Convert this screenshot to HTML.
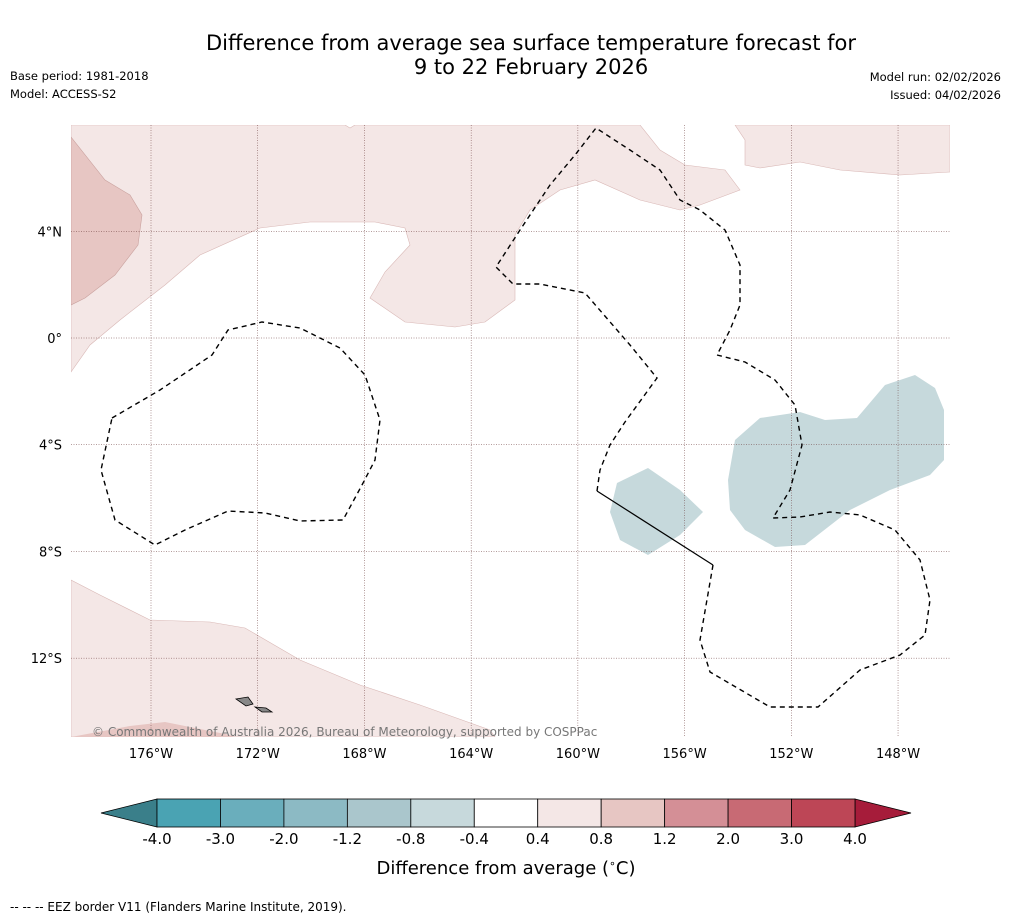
<!DOCTYPE html>
<html><head><meta charset="utf-8">
<style>
body{margin:0;background:#fff;width:1011px;height:919px;overflow:hidden;font-family:"Liberation Sans",sans-serif}
svg text{font-family:"DejaVu Sans","Liberation Sans",sans-serif}
</style></head>
<body>
<svg id="fig" width="1011" height="919">
<rect width="1011" height="919" fill="#fff"/>
<text x="531" y="50" font-size="21" text-anchor="middle">Difference from average sea surface temperature forecast for</text>
<text x="531" y="74" font-size="21" text-anchor="middle">9 to 22 February 2026</text>
<text x="10" y="80" font-size="11.5">Base period: 1981-2018</text>
<text x="10" y="98" font-size="11.5">Model: ACCESS-S2</text>
<text x="1001" y="81" font-size="11.5" text-anchor="end">Model run: 02/02/2026</text>
<text x="1001" y="99" font-size="11.5" text-anchor="end">Issued: 04/02/2026</text>

<g>
<clipPath id="mc"><rect x="71" y="125" width="879" height="612"/></clipPath>
<g clip-path="url(#mc)">
<polygon fill="#f4e7e6" stroke="#d9b8b6" stroke-width="0.6" points="71,125 345,125 350,128 355,125 640,125 660,150 685,165 725,170 740,190 700,205 680,210 640,200 595,180 560,190 530,210 515,235 515,300 485,322 455,327 405,322 370,298 385,272 410,245 405,228 375,222 310,222 260,228 200,255 165,285 120,320 90,345 71,372"/>
<polygon fill="#f4e7e6" stroke="#d9b8b6" stroke-width="0.6" points="735,125 950,125 950,172 900,175 840,170 800,162 760,168 745,165 745,140"/>
<polygon fill="#e7c6c3" stroke="#c9a19e" stroke-width="0.6" points="71,137 105,180 130,195 142,215 138,245 115,275 85,298 71,305"/>
<polygon fill="#f4e7e6" stroke="#d9b8b6" stroke-width="0.6" points="71,580 100,595 150,620 210,622 245,628 300,660 360,685 420,705 490,730 495,737 71,737"/>
<polygon fill="#e7c6c3" points="71,737 130,726 165,722 230,735 235,737"/>
<polygon fill="#c6d9dc" points="735,440 760,418 800,412 825,420 857,418 885,385 915,375 935,388 944,410 944,460 930,475 890,490 850,510 805,545 775,547 745,530 730,510 728,480"/>
<polygon fill="#c6d9dc" points="617,483 648,468 680,490 703,512 680,535 648,555 620,540 610,512"/>
<g id="grid" stroke="#6a3a3a" stroke-width="0.5" stroke-dasharray="1,1.5"></g>
<g fill="none" stroke="#000" stroke-width="1.4" stroke-dasharray="5,4">
<polygon points="112,418 160,390 212,355 228,330 262,322 300,328 340,348 365,375 380,420 375,460 362,485 343,520 300,521 265,513 228,511 185,530 155,545 115,520 101,470"/>
<polyline points="597,491 600,470 610,445 625,422 657,378 630,345 585,293 540,284 513,284 496,267 520,230 550,185 575,155 596,128 630,150 660,170 680,200 700,210 725,230 740,265 740,305 730,330 717,355"/>
<polyline points="717,355 745,362 775,380 795,405 802,445 790,490 773,518 800,517 830,512 860,515 895,530 920,560 930,600 925,635 900,655 860,670 818,707 770,707 710,672 700,640 713,565"/>
</g>
<line x1="597" y1="491" x2="713" y2="565" stroke="#000" stroke-width="1.2"/>
<polygon points="236,699 248,697 253,704 246,706" fill="#888" stroke="#000" stroke-width="0.8"/>
<polygon points="255,707 266,708 272,712 262,712" fill="#888" stroke="#000" stroke-width="0.8"/>
</g>
<text x="92" y="736" font-size="12" fill="#777">© Commonwealth of Australia 2026, Bureau of Meteorology, supported by COSPPac</text>
</g>
<g id="ticks"></g>
<g id="cbar"></g>
<text x="506" y="874" font-size="18" text-anchor="middle">Difference from average (<tspan font-size="11" dy="-7">∘</tspan><tspan dy="7">C)</tspan></text>
<text x="10" y="911" font-size="12">--  --  -- EEZ border V11 (Flanders Marine Institute, 2019).</text>
</svg>
<script>
const lonLabels=["176°W","172°W","168°W","164°W","160°W","156°W","152°W","148°W"];
const lonValues=[-176,-172,-168,-164,-160,-156,-152,-148];
const latLabels=["4°N","0°","4°S","8°S","12°S"];
const latValues=[4,0,-4,-8,-12];
const binEdges=[-4.0,-3.0,-2.0,-1.2,-0.8,-0.4,0.4,0.8,1.2,2.0,3.0,4.0];
const binLabels=["-4.0","-3.0","-2.0","-1.2","-0.8","-0.4","0.4","0.8","1.2","2.0","3.0","4.0"];
const binColors=["#4aa3b3","#6aaebc","#8cbac4","#aac6cc","#c7d9dc","#ffffff","#f4e7e6","#e7c6c3","#d48f96","#c86a74","#bd4656"];
const NS="http://www.w3.org/2000/svg";
const xLon=v=>151+(v+176)*26.68;
const yLat=v=>338-v*26.68;
const grid=document.getElementById('grid'),ticks=document.getElementById('ticks'),cbar=document.getElementById('cbar');
function mk(t,a,p){const e=document.createElementNS(NS,t);for(const k in a)e.setAttribute(k,a[k]);p.appendChild(e);return e;}
lonValues.forEach((v,i)=>{
 const l=mk('line',{x1:xLon(v),x2:xLon(v),y1:125,y2:737},grid);
 
 
 const t=mk('text',{x:xLon(v),y:758,'font-size':13,'text-anchor':'middle'},ticks);t.textContent=lonLabels[i];
 
 
});
latValues.forEach((v,i)=>{
 const l=mk('line',{x1:71,x2:950,y1:yLat(v),y2:yLat(v)},grid);
 
 
 const t=mk('text',{x:62,y:yLat(v)+5,'font-size':13,'text-anchor':'end'},ticks);t.textContent=latLabels[i];
 
 
});
const cx0=157,cx1=855,cy=799,ch=28,n=binEdges.length-1,bw=(cx1-cx0)/n;
const lt=mk('polygon',{points:`${cx0},${cy} ${cx0},${cy+ch} 101,${cy+ch/2}`,fill:'#3a7f8a',stroke:'#000','stroke-width':0.8},cbar);


const rt=mk('polygon',{points:`${cx1},${cy} ${cx1},${cy+ch} 911,${cy+ch/2}`,fill:'#a61c3a',stroke:'#000','stroke-width':0.8},cbar);


for(let i=0;i<n;i++){
 const r=mk('rect',{x:cx0+i*bw,y:cy,width:bw,height:ch,fill:binColors[i],stroke:'#000','stroke-width':0.8},cbar);
 
 
}
binLabels.forEach((s,i)=>{
 const t=mk('text',{x:cx0+i*bw,y:844,'font-size':15,'text-anchor':'middle'},cbar);t.textContent=s;
 
 
});
</script>
</body></html>
